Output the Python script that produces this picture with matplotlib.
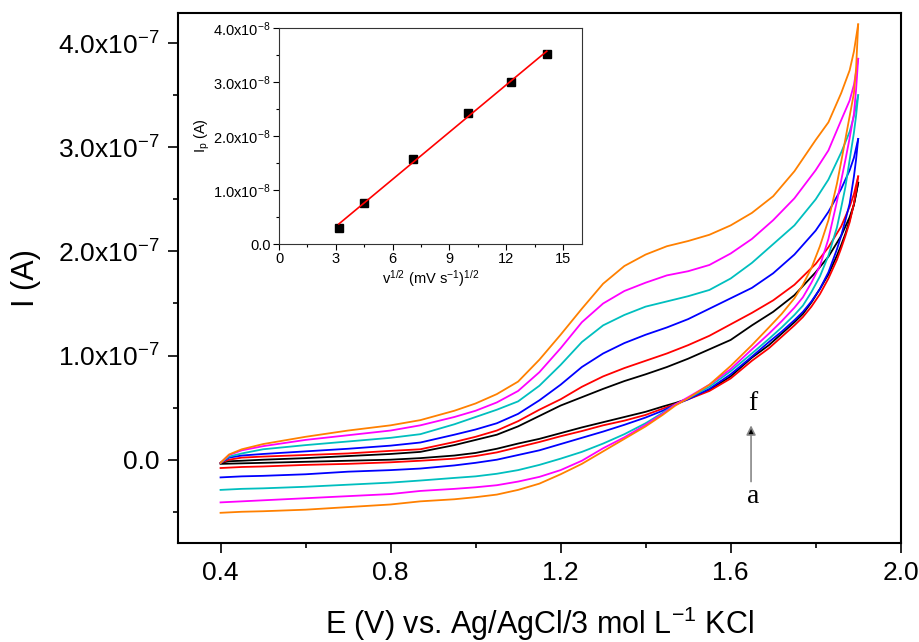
import numpy as np
import matplotlib
matplotlib.use('Agg')
import matplotlib.pyplot as plt
from matplotlib.ticker import FixedLocator, MultipleLocator, FuncFormatter

plt.rcParams['font.family'] = ['Liberation Sans', 'DejaVu Sans']
plt.rcParams['mathtext.fontset'] = 'custom'
plt.rcParams['mathtext.rm'] = 'Liberation Sans'
plt.rcParams['mathtext.it'] = 'Liberation Sans:italic'
plt.rcParams['mathtext.bf'] = 'Liberation Sans:bold'

# ---------------- data (current in units of 1e-7 A) ----------------
# forward (anodic) scan potentials, V
E_fwd = [0.40, 0.42, 0.45, 0.50, 0.60, 0.70, 0.80, 0.87, 0.95, 1.00, 1.05, 1.10,
         1.15, 1.20, 1.25, 1.30, 1.35, 1.40, 1.45, 1.50, 1.55, 1.60, 1.65, 1.70,
         1.75, 1.80, 1.83, 1.86, 1.88, 1.89, 1.90]
# reverse scan potentials, V
E_rev = [1.90, 1.895, 1.89, 1.88, 1.87, 1.86, 1.85, 1.83, 1.81, 1.79, 1.77, 1.75,
         1.72, 1.69, 1.65, 1.60, 1.55, 1.50, 1.47, 1.44, 1.40, 1.35, 1.30, 1.25,
         1.20, 1.15, 1.10, 1.05, 1.00, 0.95, 0.87, 0.80, 0.70, 0.60, 0.50, 0.45, 0.40]

I_fwd_a = [-0.03, -0.015, -0.01, 0.0, 0.015, 0.035, 0.055, 0.075, 0.14, 0.19, 0.24, 0.32,
           0.42, 0.52, 0.60, 0.68, 0.755, 0.82, 0.89, 0.97, 1.06, 1.15, 1.29, 1.42,
           1.58, 1.80, 1.95, 2.15, 2.33, 2.45, 2.66]
I_fwd_b = [-0.03, 0.0, 0.02, 0.03, 0.045, 0.06, 0.085, 0.10, 0.17, 0.22, 0.28, 0.37,
           0.48, 0.58, 0.70, 0.80, 0.88, 0.95, 1.02, 1.10, 1.19, 1.30, 1.41, 1.53,
           1.68, 1.88, 2.04, 2.24, 2.43, 2.55, 2.72]
I_fwd_c = [-0.03, 0.02, 0.04, 0.055, 0.08, 0.105, 0.135, 0.165, 0.24, 0.29, 0.35, 0.44,
           0.57, 0.72, 0.89, 1.02, 1.12, 1.20, 1.27, 1.35, 1.45, 1.55, 1.65, 1.79,
           1.97, 2.20, 2.38, 2.60, 2.78, 2.90, 3.08]
I_fwd_d = [-0.03, 0.03, 0.06, 0.10, 0.14, 0.175, 0.21, 0.245, 0.34, 0.41, 0.48, 0.56,
           0.71, 0.91, 1.13, 1.29, 1.39, 1.47, 1.52, 1.57, 1.63, 1.74, 1.89, 2.07,
           2.25, 2.50, 2.69, 2.95, 3.15, 3.30, 3.50]
I_fwd_e = [-0.03, 0.045, 0.09, 0.13, 0.19, 0.235, 0.28, 0.33, 0.41, 0.47, 0.55, 0.66,
           0.84, 1.07, 1.32, 1.50, 1.62, 1.70, 1.77, 1.81, 1.87, 1.98, 2.12, 2.30,
           2.51, 2.78, 2.97, 3.26, 3.45, 3.60, 3.85]
I_fwd_f = [-0.03, 0.05, 0.10, 0.15, 0.22, 0.28, 0.33, 0.38, 0.47, 0.54, 0.63, 0.75,
           0.96, 1.20, 1.45, 1.69, 1.86, 1.97, 2.05, 2.10, 2.16, 2.25, 2.37, 2.53,
           2.77, 3.07, 3.24, 3.52, 3.74, 3.92, 4.18]

I_rev_a = [2.66, 2.55, 2.45, 2.30, 2.17, 2.06, 1.96, 1.78, 1.64, 1.51, 1.40, 1.32,
           1.21, 1.10, 0.98, 0.80, 0.67, 0.585, 0.545, 0.51, 0.46, 0.41, 0.36, 0.31,
           0.255, 0.20, 0.155, 0.105, 0.065, 0.04, 0.015, 0.0, -0.01, -0.02, -0.03, -0.035, -0.04]
I_rev_b = [2.72, 2.58, 2.46, 2.28, 2.15, 2.03, 1.92, 1.74, 1.59, 1.47, 1.37, 1.29,
           1.18, 1.07, 0.95, 0.78, 0.66, 0.58, 0.535, 0.49, 0.43, 0.375, 0.33, 0.275,
           0.225, 0.17, 0.12, 0.07, 0.035, 0.01, -0.01, -0.025, -0.04, -0.05, -0.065, -0.07, -0.08]
I_rev_c = [3.08, 2.88, 2.72, 2.46, 2.30, 2.15, 2.02, 1.80, 1.64, 1.52, 1.42, 1.34,
           1.23, 1.13, 0.99, 0.82, 0.68, 0.58, 0.53, 0.47, 0.405, 0.335, 0.27, 0.21,
           0.15, 0.09, 0.045, 0.0, -0.03, -0.055, -0.085, -0.10, -0.115, -0.14, -0.155, -0.16, -0.17]
I_rev_d = [3.50, 3.30, 3.14, 2.88, 2.62, 2.42, 2.23, 1.96, 1.76, 1.61, 1.48, 1.39,
           1.27, 1.16, 1.02, 0.85, 0.70, 0.59, 0.53, 0.45, 0.35, 0.245, 0.155, 0.075,
           0.01, -0.05, -0.10, -0.135, -0.16, -0.175, -0.20, -0.22, -0.24, -0.26, -0.275, -0.28, -0.29]
I_rev_e = [3.85, 3.55, 3.32, 3.09, 2.88, 2.68, 2.48, 2.12, 1.86, 1.70, 1.56, 1.46,
           1.33, 1.21, 1.06, 0.87, 0.72, 0.60, 0.53, 0.44, 0.335, 0.215, 0.11, -0.01,
           -0.10, -0.165, -0.21, -0.245, -0.265, -0.28, -0.30, -0.33, -0.35, -0.37, -0.39, -0.40, -0.41]
I_rev_f = [4.18, 3.75, 3.52, 3.30, 3.08, 2.86, 2.65, 2.30, 2.05, 1.84, 1.68, 1.55,
           1.40, 1.27, 1.10, 0.90, 0.72, 0.59, 0.52, 0.43, 0.32, 0.20, 0.08, -0.04,
           -0.14, -0.23, -0.29, -0.335, -0.36, -0.38, -0.40, -0.43, -0.455, -0.48, -0.495, -0.50, -0.51]

fwd_curves = [I_fwd_a, I_fwd_b, I_fwd_c, I_fwd_d, I_fwd_e, I_fwd_f]
rev_curves = [I_rev_a, I_rev_b, I_rev_c, I_rev_d, I_rev_e, I_rev_f]
curve_colors = ['#000000', '#FF0000', '#0000FF', '#00BFBF', '#FF00FF', '#FF8000']

# inset data
sqrt_v = [3.16, 4.47, 7.07, 10.0, 12.25, 14.14]      # (mV s^-1)^1/2
Ip = [0.30, 0.76, 1.58, 2.43, 3.00, 3.52]             # units of 1e-8 A

main_xticks = [0.4, 0.8, 1.2, 1.6, 2.0]
main_yticks = [0.0, 1.0, 2.0, 3.0, 4.0]               # units of 1e-7 A
inset_xticks = [0, 3, 6, 9, 12, 15]
inset_yticks = [0.0, 1.0, 2.0, 3.0, 4.0]              # units of 1e-8 A

# ---------------- figure ----------------
fig = plt.figure(figsize=(9.2, 6.42), dpi=100)
ax = fig.add_axes([0.1935, 0.1542, 0.7855, 0.8256])

for fw, rv, c in zip(fwd_curves, rev_curves, curve_colors):
    ax.plot(E_fwd, np.array(fw) * 1e-7, color=c, lw=1.3, solid_joinstyle='round')
    ax.plot(E_rev, np.array(rv) * 1e-7, color=c, lw=1.3, solid_joinstyle='round')

ax.set_xlim(0.3, 2.0)
ax.set_ylim(-0.8e-7, 4.29e-7)
ax.xaxis.set_major_locator(FixedLocator(main_xticks))
ax.xaxis.set_minor_locator(MultipleLocator(0.2))
ax.xaxis.set_major_formatter(FuncFormatter(lambda v, p: '%.1f' % v))
ax.yaxis.set_major_locator(FixedLocator([t * 1e-7 for t in main_yticks]))
ax.yaxis.set_minor_locator(MultipleLocator(0.5e-7))

def main_fmt(v, p):
    m = v / 1e-7
    if abs(m) < 1e-9:
        return '0.0'
    return r'$\mathrm{%.1fx10^{-7}}$' % m
ax.yaxis.set_major_formatter(FuncFormatter(main_fmt))

ax.tick_params(which='major', direction='out', length=7.2, width=1.2, labelsize=19, pad=6)
ax.tick_params(which='minor', direction='out', length=3.6, width=1.2)
for s in ax.spines.values():
    s.set_linewidth(1.5)

ax.set_xlabel(r'E (V) vs. Ag/AgCl/3 mol L$^{\mathrm{-1}}$ KCl', fontsize=22, labelpad=14)
ax.set_ylabel('I (A)', fontsize=22, labelpad=12)

# arrow annotation a -> f
ax.annotate('', xy=(1.648, 0.33e-7), xytext=(1.648, -0.21e-7),
            arrowprops=dict(arrowstyle='-|>', color='#888888', lw=1.2,
                            mutation_scale=14, fc='black', ec='#888888',
                            shrinkA=0, shrinkB=0))
ax.text(1.652, 0.54e-7, 'f', fontsize=20, family='Liberation Serif',
        ha='center', va='center')
ax.text(1.652, -0.35e-7, 'a', fontsize=20, family='Liberation Serif',
        ha='center', va='center')

# ---------------- inset ----------------
ins = fig.add_axes([0.3033, 0.6199, 0.3293, 0.3365])
ins.plot(sqrt_v, np.array(Ip) * 1e-8, 's', color='black', ms=5.5)
coef = np.polyfit(sqrt_v, Ip, 1)
xf = np.array([sqrt_v[0], sqrt_v[-1]])
ins.plot(xf, np.polyval(coef, xf) * 1e-8, color='red', lw=1.2)
ins.set_xlim(0, 16)
ins.set_ylim(0, 4.0e-8)
ins.xaxis.set_major_locator(FixedLocator(inset_xticks))
ins.xaxis.set_minor_locator(MultipleLocator(1.5))
ins.yaxis.set_major_locator(FixedLocator([t * 1e-8 for t in inset_yticks]))
ins.yaxis.set_minor_locator(MultipleLocator(0.5e-8))

def ins_fmt(v, p):
    m = v / 1e-8
    if abs(m) < 1e-9:
        return '0.0'
    return r'$\mathrm{%.1fx10^{-8}}$' % m
ins.yaxis.set_major_formatter(FuncFormatter(ins_fmt))
ins.xaxis.set_major_formatter(FuncFormatter(lambda v, p: '%d' % v))
ins.tick_params(which='major', direction='out', length=4, width=0.8, labelsize=10.5, pad=2)
ins.tick_params(which='minor', direction='out', length=2.5, width=0.8)
for s in ins.spines.values():
    s.set_linewidth(0.8)
    s.set_color('#333333')
ins.set_xlabel(r'v$^{\mathrm{1/2}}$ (mV s$^{\mathrm{-1}}$)$^{\mathrm{1/2}}$', fontsize=10.5, labelpad=1)
ins.set_ylabel(r'I$_{\mathrm{p}}$ (A)', fontsize=10.5, labelpad=1)

fig.savefig('out.png', dpi=100)
